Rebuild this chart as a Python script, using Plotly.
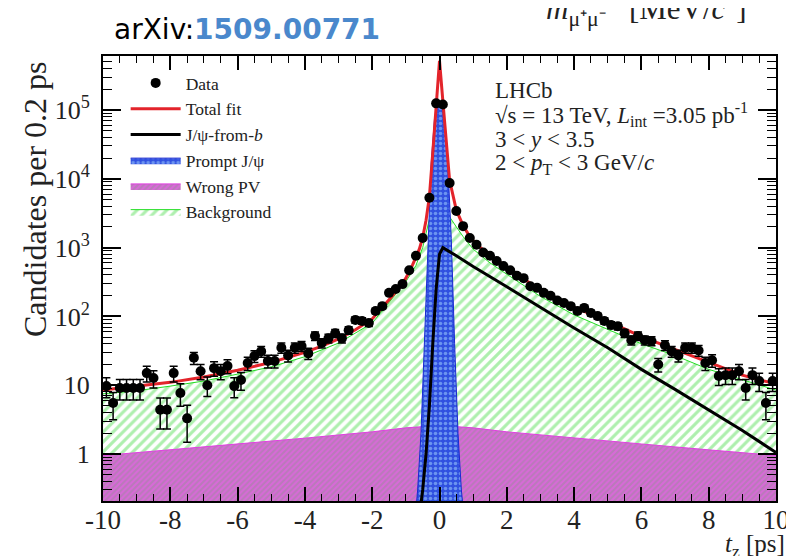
import plotly.graph_objects as go

# ---------------- data ----------------
bin_centers = [round(-9.9 + 0.2 * i, 1) for i in range(100)]
data_counts = [
    9.7, 5.5, 9.1, 9.1, 9.1, 9.1, 15, 12.7, 4.4, 4.4,
    15, 7.7, 3.3, 25, 16, 10, 17.7, 16, 19, 9.7,
    11.9, 21, 26.5, 31, 22.5, 22.5, 35, 27, 35, 37,
    29, 52, 41, 48, 57, 48, 63, 89, 86, 80,
    120, 141, 220, 250, 295, 470, 760, 1380, 5300, 125000,
    120000, 8700, 3400, 2050, 1380, 1100, 850, 760, 640, 540,
    470, 390, 360, 275, 260, 220, 200, 170, 157, 141,
    120, 133, 112, 101, 86, 75, 72, 57, 45, 52,
    45, 44, 20, 38, 31, 27, 35, 35, 32, 21,
    23, 13.6, 14, 14, 16, 9.1, 14, 11.5, 5.5, 11.5,
]

fit_x = [-10, -9, -8, -7, -6, -5, -4, -3.5, -3, -2.5, -2, -1.5, -1.2, -1.0, -0.8, -0.6,
         -0.5, -0.4, -0.3, -0.2, -0.1, 0.0, 0.1, 0.2, 0.3, 0.5, 0.7, 0.9, 1.1, 1.5, 2.0,
         2.5, 3.0, 3.5, 4.0, 4.5, 5.0, 5.5, 6.0, 6.5, 7.0, 7.5, 8.0, 8.5, 9.0, 9.5, 10]
fit_total = [8.5, 9.6, 11, 13.2, 16.5, 21.5, 30, 37, 47, 64, 92, 175, 260, 360, 560, 950,
             1400, 2500, 5500, 24000, 130000, 520000, 135000, 37000, 9500, 3500, 2100, 1450,
             1100, 780, 520, 350, 245, 180, 135, 108, 85, 66, 51, 41, 33, 27, 21.5, 17,
             14, 12, 10.5]

bkg_x = [-10, -9, -8, -7, -6, -5, -4, -3, -2, -1.5, -1, -0.7, -0.5, -0.3, -0.1, 0.1, 0.3,
         0.5, 0.7, 1, 1.5, 2, 3, 4, 5, 6, 7, 8, 9, 10]
bkg_vals = [7.5, 8.3, 9.7, 11.5, 14.5, 18.5, 26, 41, 80, 160, 320, 550, 1000, 2600, 5000,
            5000, 2800, 2000, 1450, 950, 600, 410, 195, 105, 65, 40, 27, 17, 12, 8.5]

wpv_x = [-10, -8, -6, -4, -2, -1, 0, 1, 2, 4, 6, 8, 10]
wpv_vals = [0.95, 1.15, 1.4, 1.7, 2.1, 2.4, 2.6, 2.4, 2.1, 1.7, 1.4, 1.15, 0.95]

prompt_x = [-0.75, -0.65, -0.55, -0.45, -0.35, -0.25, -0.15, -0.05, 0.05, 0.15, 0.25,
            0.35, 0.45, 0.55, 0.65, 0.75, 0.85]
prompt_vals = [0.08, 0.3, 2, 40, 1350, 16000, 73000, 115000, 125000, 73000, 16000, 1350,
               40, 2, 0.3, 0.08, 0.03]

fromb_x = [-0.7, -0.5, -0.4, -0.3, -0.2, -0.1, 0.0, 0.1, 0.5, 1, 2, 3, 4, 5, 6, 7, 8, 9, 10]
fromb_vals = [0.05, 0.3, 1, 5, 40, 250, 800, 1000, 760, 530, 270, 135, 68, 35, 17, 8.7,
              4.4, 2.2, 1.05]

y_tickvals = [1, 10, 100, 1000, 10000, 100000]
y_ticktext = ["1", "10", "10<sup>2</sup>", "10<sup>3</sup>", "10<sup>4</sup>", "10<sup>5</sup>"]
x_tickvals = [-10, -8, -6, -4, -2, 0, 2, 4, 6, 8, 10]
x_ticktext = ["-10", "-8", "-6", "-4", "-2", "0", "2", "4", "6", "8", "10"]

info_lines = [
    "LHCb",
    "√s = 13 TeV, <i>L</i><sub>int</sub> =3.05 pb<sup>-1</sup>",
    "3 &lt; <i>y</i> &lt; 3.5",
    "2 &lt; <i>p</i><sub>T</sub> &lt; 3 GeV/<i>c</i>",
]

SERIF = "Liberation Serif, Times New Roman, serif"
TXT = "#222222"

# plot-area pixel geometry (used only for placing text)
PL, PR, PT, PB = 95, 778, 48, 493
def px(xp):
    return (xp - PL) / (PR - PL)
def py(yp):
    return 1 - (yp - PT) / (PB - PT)

fig = go.Figure()

fig.add_trace(go.Scatter(
    x=bkg_x, y=bkg_vals, mode="lines", name="Background",
    line=dict(color="#22dd22", width=1),
    fill="tozeroy", fillcolor="white",
    fillpattern=dict(shape="/", fgcolor="#5ee05e", bgcolor="white", size=7, solidity=0.45),
))
fig.add_trace(go.Scatter(
    x=wpv_x, y=wpv_vals, mode="lines", name="Wrong PV",
    line=dict(color="#e040e0", width=1),
    fill="tozeroy",
    fillpattern=dict(shape="/", fgcolor="#9a8a9a", bgcolor="#d86ad8", size=4, solidity=0.5),
))
fig.add_trace(go.Scatter(
    x=prompt_x, y=prompt_vals, mode="lines", name="Prompt J/ψ",
    line=dict(color="#1a2ad0", width=1),
    fill="tozeroy",
    fillpattern=dict(shape=".", fgcolor="#a8d8ff", bgcolor="#3050e0", size=5, solidity=0.4),
))
fig.add_trace(go.Scatter(
    x=fromb_x, y=fromb_vals, mode="lines", name="J/ψ-from-<i>b</i>",
    line=dict(color="black", width=3),
))
fig.add_trace(go.Scatter(
    x=fit_x, y=fit_total, mode="lines", name="Total fit",
    line=dict(color="#e3242b", width=3),
))
fig.add_trace(go.Scatter(
    x=bin_centers, y=data_counts, mode="markers", name="Data",
    marker=dict(color="black", size=10),
    error_y=dict(type="sqrt", color="black", thickness=1.5, width=4),
    error_x=dict(type="constant", value=0.1, color="black", thickness=1.5, width=0),
))

annotations = []
for i, line in enumerate(info_lines):
    annotations.append(dict(
        text=line, xref="paper", yref="paper",
        x=px(491), y=py(82 + 24.5 * i),
        xanchor="left", yanchor="middle", showarrow=False,
        font=dict(family=SERIF, size=23, color=TXT),
    ))
annotations.append(dict(
    text="Candidates per 0.2 ps", xref="paper", yref="paper",
    x=px(26), y=py(191), textangle=-90,
    xanchor="center", yanchor="middle", showarrow=False,
    font=dict(family=SERIF, size=32, color=TXT),
))
annotations.append(dict(
    text="<i>t</i><sub>z</sub> [ps]", xref="paper", yref="paper",
    x=px(789), y=py(555),
    xanchor="right", yanchor="bottom", showarrow=False,
    font=dict(family=SERIF, size=25, color=TXT),
))
annotations.append(dict(
    text="<i>m</i><sub>μ⁺μ⁻</sub>\u00a0\u00a0\u00a0[MeV/<i>c</i><sup>2</sup>]", xref="paper", yref="paper",
    x=px(543), y=py(1),
    xanchor="left", yanchor="middle", showarrow=False,
    font=dict(family=SERIF, size=31, color=TXT),
))

fig.update_layout(
    width=794, height=556,
    margin=dict(l=PL, r=794 - PR, t=PT, b=556 - PB),
    paper_bgcolor="white", plot_bgcolor="white",
    title=dict(
        text="arXiv:<b><span style='color:#4a88cc'>1509.00771</span></b>",
        x=106 / 794, xanchor="left", y=1 - 21 / 556, yanchor="middle",
        font=dict(family="DejaVu Sans, Arial, sans-serif", size=28, color="black"),
    ),
    showlegend=True,
    legend=dict(
        x=px(118), y=py(57), xanchor="left", yanchor="top",
        bgcolor="rgba(0,0,0,0)", traceorder="reversed",
        font=dict(family=SERIF, size=17.5, color=TXT), itemwidth=50,
    ),
    annotations=annotations,
    xaxis=dict(
        range=[-10, 10], tickvals=x_tickvals, ticktext=x_ticktext,
        ticks="inside", ticklen=14, tickwidth=1.5, tickcolor="black",
        minor=dict(ticks="inside", ticklen=7, dtick=0.5, tickcolor="black", tickwidth=1.2),
        showline=True, linecolor="black", linewidth=2, mirror="ticks",
        showgrid=False, zeroline=False,
        tickfont=dict(family=SERIF, size=27, color=TXT),
        ticklabelstandoff=-6,
    ),
    yaxis=dict(
        type="log", range=[-0.683, 5.785], tickvals=y_tickvals, ticktext=y_ticktext,
        ticks="inside", ticklen=18, tickwidth=1.5, tickcolor="black",
        minor=dict(ticks="inside", ticklen=9, dtick="D1", tickcolor="black", tickwidth=1.2),
        showline=True, linecolor="black", linewidth=2, mirror="ticks",
        showgrid=False, zeroline=False,
        tickfont=dict(family=SERIF, size=26, color=TXT),
        ticklabelstandoff=6,
    ),
)

fig.write_html("out.html")
